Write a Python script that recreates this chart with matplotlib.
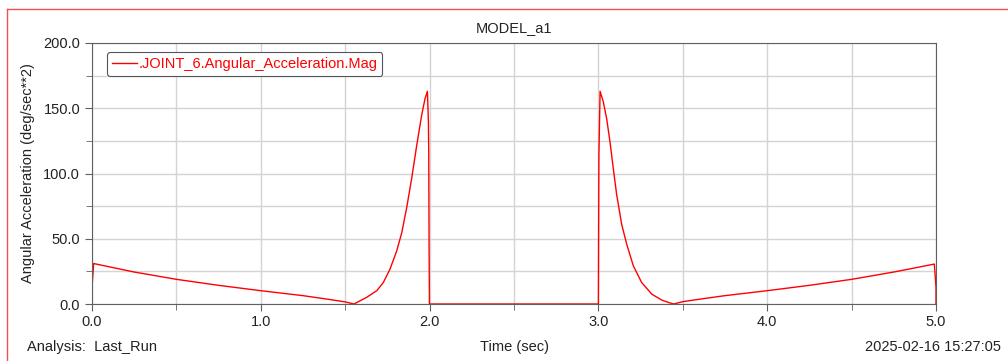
import matplotlib
matplotlib.use('Agg')
import matplotlib.pyplot as plt
from matplotlib.lines import Line2D
from matplotlib.ticker import MultipleLocator

# values
time_s = [0.0, 0.0, 0.01, 0.25, 0.5, 0.75, 1.0, 1.25, 1.4, 1.5, 1.552,
          1.627, 1.687, 1.726, 1.765, 1.805, 1.835, 1.864, 1.894, 1.924,
          1.953, 1.973, 1.987, 1.993, 1.995, 1.997, 1.999,
          3.0, 3.001, 3.003, 3.01, 3.029, 3.049, 3.069, 3.088, 3.108, 3.138,
          3.168, 3.207, 3.256, 3.316, 3.375, 3.42, 3.446,
          3.5, 3.6, 3.75, 4.0, 4.25, 4.5, 4.75, 4.99, 5.0, 5.0]
ang_acc = [0.0, 13.0, 31.0, 24.5, 18.9, 14.3, 10.2, 6.4, 3.6, 1.6, 0.0,
           5.1, 10.2, 16.5, 26.6, 40.6, 54.6, 73.6, 96.4, 121.8,
           144.7, 157.4, 163.0, 140.0, 114.0, 43.0, 0.0,
           0.0, 43.0, 114.0, 163.0, 155.0, 142.0, 124.0, 104.0, 84.0, 61.0,
           45.7, 29.2, 16.5, 7.6, 3.0, 1.0, 0.0,
           1.8, 3.7, 6.4, 10.2, 14.3, 18.9, 24.5, 30.6, 13.0, 0.0]

series_name = '.JOINT_6.Angular_Acceleration.Mag'
title = 'MODEL_a1'

plt.rcParams['font.family'] = ['Liberation Sans', 'DejaVu Sans']
plt.rcParams['font.size'] = 10.5

fig = plt.figure(figsize=(10.08, 3.61), dpi=100)
ax = fig.add_axes([92 / 1008, 1 - 304 / 361, 844 / 1008, 261 / 361])

ax.plot(time_s, ang_acc, color='#ff0000', linewidth=1.0, label=series_name)

ax.set_xlim(0, 5)
ax.set_ylim(0, 200)
ax.xaxis.set_major_locator(MultipleLocator(1.0))
ax.xaxis.set_minor_locator(MultipleLocator(0.5))
ax.yaxis.set_major_locator(MultipleLocator(50))
ax.yaxis.set_minor_locator(MultipleLocator(25))
ax.xaxis.set_major_formatter(lambda v, p: f'{v:.1f}')
ax.yaxis.set_major_formatter(lambda v, p: f'{v:.1f}')
ax.grid(True, which='both', color='#d4d4d4', linewidth=1.0)
ax.set_axisbelow(True)
for sp in ax.spines.values():
    sp.set_color('#606060')
ax.tick_params(which='major', length=5, color='#606060', labelsize=10.5, labelcolor='#222222')
ax.tick_params(which='minor', length=4, color='#606060')
ax.tick_params(axis='x', pad=3)

ax.set_title(title, fontsize=10.5, color='#222222', pad=8)
ax.set_ylabel('Angular Acceleration (deg/sec**2)', fontsize=10.5, color='#222222', labelpad=6)

leg = ax.legend(loc='upper left', bbox_to_anchor=(15 / 844, 1 - 9 / 261), handlelength=1.7,
                handletextpad=0.1, borderpad=0.35, fontsize=10.5, fancybox=True,
                framealpha=1, edgecolor='#555555', borderaxespad=0)
for txt in leg.get_texts():
    txt.set_color('#ff0000')
leg.get_frame().set_linewidth(0.8)

fig.text(27 / 1008, 1 - 347 / 361, 'Analysis:  Last_Run', ha='left', va='center', fontsize=10.5, color='#222222')
fig.text(514 / 1008, 1 - 347 / 361, 'Time (sec)', ha='center', va='center', fontsize=10.5, color='#222222')
fig.text(1001 / 1008, 1 - 347 / 361, '2025-02-16 15:27:05', ha='right', va='center', fontsize=10.5, color='#222222')

# red outer frame (top and left edges)
fig.add_artist(Line2D([7 / 1008, 7 / 1008], [0, 1 - 9 / 361], color='#f05050', linewidth=1.0))
fig.add_artist(Line2D([7 / 1008, 1], [1 - 9 / 361, 1 - 9 / 361], color='#f05050', linewidth=1.0))

fig.savefig('out.png', dpi=100)
